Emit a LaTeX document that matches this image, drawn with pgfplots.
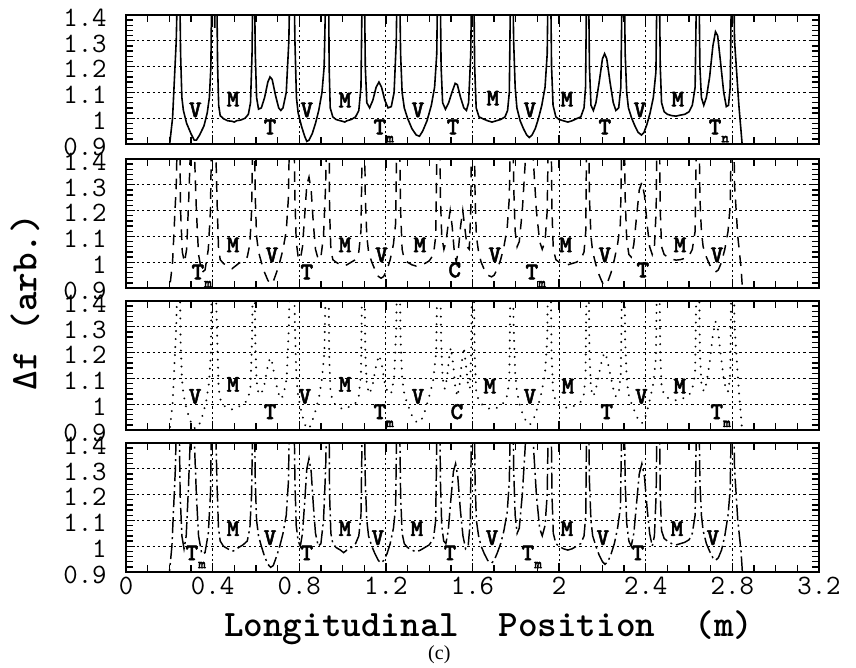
\documentclass[border=0pt]{standalone}
\usepackage{fontspec}
\setmainfont{Liberation Serif}
\newfontfamily\lblfont{lmmonolt10-bold.otf}[FakeBold=2]
\usepackage{pgfplots}
\pgfplotsset{compat=1.18}

\newcommand\Tm[1][m]{T\rlap{\smash{\raisebox{-6pt}{\fontsize{11}{11}\selectfont #1}}}}

\pgfplotsset{
  panel/.style={
    scale only axis, width=519.75pt, height=96.75pt,
    anchor=north west,
    xmin=0, xmax=3.2, ymin=0.9, ymax=1.4,
    xtick={0,0.4,0.8,1.2,1.6,2,2.4,2.8,3.2},
    ytick={0.9,1,1.1,1.2,1.3,1.4},
    minor x tick num=3, minor y tick num=4,
    grid=major,
    major grid style={black, line width=0.7pt, dash pattern=on 1.8pt off 2.2pt},
    axis line style={line width=1.5pt},
    tick style={black, line width=1pt},
    major tick length=7pt, minor tick length=5pt,
    tick align=inside,
    ticklabel style={font=\ttfamily\fontsize{21}{21}\selectfont},
    /pgf/number format/assume math mode=true,
    yticklabel style={xshift=-11pt, yshift=-2pt},
  },
}
\tikzset{lbl/.style={font=\lblfont\fontsize{18}{18}\selectfont, inner sep=0pt}}

\begin{document}
\begin{tikzpicture}
\path[use as bounding box] (-94.5pt,11.25pt) rectangle (547.5pt,-489pt);

% ---- panel 1: solid
\begin{axis}[panel, at={(0,0)}, xticklabels={}]
\addplot[black, line width=1.2pt] coordinates {
(0.195,0.85) (0.215,1.0) (0.232,1.3) (0.240,1.6)
(0.247,1.6) (0.252,1.25) (0.258,1.08) (0.265,1.03) (0.28,0.98) (0.30,0.94) (0.315,0.915) (0.325,0.915) (0.34,0.935) (0.36,0.97) (0.375,1.02) (0.385,1.08) (0.392,1.2) (0.397,1.6)
(0.405,1.6) (0.410,1.35) (0.414,1.6) (0.418,1.6)
(0.423,1.2) (0.428,1.05) (0.435,1.01) (0.45,0.998) (0.47,0.99) (0.49,0.988) (0.5,0.985) (0.51,0.99) (0.53,0.993) (0.55,1.0) (0.565,1.015) (0.575,1.06) (0.582,1.25) (0.587,1.6)
(0.592,1.6)
(0.597,1.25) (0.603,1.08) (0.612,1.035) (0.625,1.04) (0.64,1.08) (0.655,1.14) (0.665,1.16) (0.675,1.15) (0.69,1.09) (0.705,1.04) (0.715,1.03) (0.725,1.04) (0.74,1.1) (0.752,1.3) (0.758,1.6)
(0.775,1.6)
(0.78,1.3) (0.787,1.08) (0.795,1.02) (0.81,0.97) (0.825,0.93) (0.835,0.91) (0.845,0.915) (0.86,0.94) (0.875,0.98) (0.89,1.03) (0.905,1.1) (0.915,1.2) (0.925,1.6)
(0.935,1.6)
(0.938,1.2) (0.943,1.04) (0.955,1.005) (0.97,0.995) (0.99,0.99) (1.0,0.988) (1.01,0.985) (1.02,0.99) (1.04,0.995) (1.06,1.005) (1.075,1.03) (1.085,1.12) (1.092,1.6)
(1.1,1.6)
(1.105,1.2) (1.112,1.06) (1.125,1.04) (1.14,1.07) (1.155,1.12) (1.168,1.14) (1.18,1.12) (1.195,1.07) (1.21,1.04) (1.225,1.045) (1.238,1.1) (1.248,1.3) (1.253,1.6)
(1.262,1.6)
(1.268,1.25) (1.275,1.1) (1.285,1.04) (1.3,1.0) (1.32,0.96) (1.34,0.935) (1.355,0.93) (1.37,0.95) (1.39,0.99) (1.41,1.05) (1.425,1.12) (1.435,1.25) (1.44,1.6)
(1.45,1.6)
(1.455,1.2) (1.462,1.06) (1.475,1.035) (1.49,1.06) (1.505,1.1) (1.52,1.135) (1.53,1.13) (1.545,1.08) (1.56,1.04) (1.572,1.03) (1.582,1.06) (1.592,1.25) (1.597,1.6)
(1.605,1.6)
(1.61,1.2) (1.617,1.04) (1.63,1.005) (1.65,0.997) (1.67,0.99) (1.69,0.985) (1.71,0.99) (1.73,0.995) (1.75,1.005) (1.762,1.03) (1.77,1.1) (1.777,1.6)
(1.785,1.6)
(1.79,1.3) (1.797,1.12) (1.805,1.04) (1.82,0.99) (1.835,0.96) (1.85,0.935) (1.862,0.925) (1.875,0.935) (1.89,0.96) (1.905,1.0) (1.92,1.05) (1.935,1.12) (1.945,1.25) (1.95,1.6)
(1.96,1.6)
(1.965,1.2) (1.972,1.05) (1.985,1.005) (2.0,0.995) (2.02,0.99) (2.04,0.985) (2.06,0.99) (2.08,0.998) (2.1,1.005) (2.115,1.04) (2.122,1.12) (2.128,1.6)
(2.135,1.6)
(2.14,1.2) (2.147,1.05) (2.158,1.03) (2.17,1.06) (2.185,1.14) (2.2,1.23) (2.21,1.25) (2.22,1.23) (2.235,1.14) (2.25,1.06) (2.262,1.03) (2.275,1.04) (2.285,1.12) (2.292,1.6)
(2.3,1.6)
(2.305,1.25) (2.312,1.1) (2.32,1.04) (2.335,1.0) (2.35,0.97) (2.365,0.945) (2.38,0.935) (2.392,0.945) (2.405,0.975) (2.42,1.02) (2.435,1.08) (2.447,1.18) (2.453,1.6)
(2.462,1.6)
(2.467,1.2) (2.473,1.06) (2.485,1.025) (2.5,1.015) (2.52,1.01) (2.54,1.008) (2.56,1.012) (2.58,1.015) (2.6,1.025) (2.615,1.05) (2.628,1.12) (2.636,1.6)
(2.645,1.6)
(2.65,1.2) (2.657,1.08) (2.668,1.05) (2.68,1.08) (2.695,1.16) (2.71,1.28) (2.722,1.335) (2.732,1.32) (2.745,1.22) (2.76,1.1) (2.772,1.045) (2.782,1.05) (2.79,1.12) (2.797,1.6)
(2.805,1.6)
(2.81,1.3) (2.83,1.05) (2.85,0.85)
};
\node[lbl] at (axis cs:0.32,1.032) {V};
\node[lbl] at (axis cs:0.494,1.074) {M};
\node[lbl] at (axis cs:0.665,0.966) {T};
\node[lbl] at (axis cs:0.835,1.032) {V};
\node[lbl] at (axis cs:1.011,1.07) {M};
\node[lbl] at (axis cs:1.172,0.966) {\Tm};
\node[lbl] at (axis cs:1.348,1.032) {V};
\node[lbl] at (axis cs:1.51,0.966) {T};
\node[lbl] at (axis cs:1.694,1.078) {M};
\node[lbl] at (axis cs:1.865,1.032) {V};
\node[lbl] at (axis cs:2.036,1.074) {M};
\node[lbl] at (axis cs:2.211,0.966) {T};
\node[lbl] at (axis cs:2.373,1.032) {V};
\node[lbl] at (axis cs:2.548,1.074) {M};
\node[lbl] at (axis cs:2.72,0.966) {\Tm[n]};
\end{axis}

% ---- panel 2: dashed
\begin{axis}[panel, at={(0,-108pt)}, xticklabels={}]
\addplot[black, line width=1.1pt, dash pattern=on 8pt off 6pt] coordinates {
(0.195,0.85) (0.215,1.0) (0.232,1.3) (0.240,1.6)
(0.247,1.6) (0.252,1.2) (0.26,1.04) (0.27,1.0) (0.28,1.05) (0.29,1.25) (0.298,1.45) (0.305,1.6) (0.315,1.45) (0.325,1.2) (0.335,1.03) (0.35,0.96) (0.365,0.97) (0.38,1.05) (0.39,1.2) (0.397,1.6)
(0.41,1.6)
(0.42,1.25) (0.427,1.06) (0.435,1.01) (0.45,0.995) (0.47,0.985) (0.49,0.975) (0.505,0.985) (0.52,0.995) (0.54,1.005) (0.56,1.02) (0.572,1.07) (0.58,1.2) (0.587,1.6)
(0.592,1.6)
(0.597,1.25) (0.603,1.1) (0.612,1.04) (0.625,1.0) (0.64,0.96) (0.655,0.93) (0.668,0.915) (0.68,0.925) (0.695,0.96) (0.71,1.0) (0.725,1.05) (0.74,1.12) (0.75,1.25) (0.757,1.6)
(0.775,1.6)
(0.78,1.25) (0.786,1.08) (0.795,1.02) (0.805,1.01) (0.815,1.06) (0.825,1.18) (0.835,1.3) (0.845,1.33) (0.855,1.28) (0.865,1.15) (0.875,1.05) (0.888,1.01) (0.9,1.02) (0.912,1.1) (0.922,1.3) (0.928,1.6)
(0.937,1.6)
(0.94,1.2) (0.946,1.05) (0.955,1.01) (0.97,1.0) (0.99,0.99) (1.005,0.985) (1.02,0.99) (1.04,1.0) (1.06,1.01) (1.075,1.04) (1.085,1.12) (1.093,1.6)
(1.1,1.6)
(1.105,1.25) (1.112,1.1) (1.12,1.04) (1.135,1.0) (1.15,0.97) (1.165,0.945) (1.178,0.938) (1.19,0.945) (1.205,0.97) (1.22,1.01) (1.235,1.07) (1.245,1.15) (1.252,1.6)
(1.262,1.6)
(1.268,1.2) (1.275,1.05) (1.285,1.01) (1.3,1.0) (1.32,0.99) (1.34,0.985) (1.36,0.99) (1.38,0.995) (1.4,1.005) (1.42,1.03) (1.43,1.1) (1.438,1.6)
(1.448,1.6)
(1.452,1.25) (1.458,1.1) (1.468,1.05) (1.478,1.08) (1.488,1.15) (1.497,1.2) (1.506,1.14) (1.515,1.05) (1.525,1.0) (1.535,1.05) (1.545,1.14) (1.555,1.2) (1.565,1.13) (1.575,1.06) (1.585,1.05) (1.592,1.2) (1.597,1.6)
(1.607,1.6)
(1.612,1.25) (1.618,1.1) (1.628,1.04) (1.64,1.0) (1.655,0.97) (1.67,0.95) (1.688,0.943) (1.7,0.95) (1.715,0.975) (1.73,1.01) (1.745,1.06) (1.76,1.13) (1.77,1.25) (1.777,1.6)
(1.787,1.6)
(1.79,1.3) (1.797,1.12) (1.806,1.06) (1.816,1.08) (1.83,1.2) (1.843,1.38) (1.855,1.6) (1.87,1.6) (1.882,1.38) (1.895,1.2) (1.91,1.08) (1.922,1.05) (1.935,1.08) (1.945,1.2) (1.952,1.6)
(1.962,1.6)
(1.967,1.2) (1.973,1.05) (1.985,1.01) (2.0,1.0) (2.02,0.995) (2.04,0.99) (2.06,0.995) (2.08,1.0) (2.1,1.01) (2.115,1.04) (2.123,1.12) (2.128,1.6)
(2.135,1.6)
(2.14,1.25) (2.147,1.1) (2.155,1.04) (2.17,0.99) (2.185,0.95) (2.2,0.92) (2.212,0.91) (2.225,0.925) (2.24,0.96) (2.255,1.01) (2.27,1.07) (2.283,1.15) (2.292,1.6)
(2.3,1.6)
(2.305,1.25) (2.312,1.09) (2.322,1.03) (2.333,1.02) (2.345,1.07) (2.358,1.18) (2.37,1.28) (2.382,1.31) (2.394,1.26) (2.406,1.15) (2.418,1.06) (2.43,1.03) (2.44,1.06) (2.448,1.2) (2.453,1.6)
(2.462,1.6)
(2.467,1.2) (2.473,1.06) (2.485,1.03) (2.5,1.02) (2.52,1.012) (2.54,1.008) (2.56,1.01) (2.58,1.015) (2.6,1.025) (2.615,1.05) (2.628,1.12) (2.636,1.6)
(2.645,1.6)
(2.65,1.25) (2.657,1.12) (2.665,1.06) (2.68,1.02) (2.695,0.99) (2.71,0.97) (2.722,0.962) (2.735,0.97) (2.75,1.0) (2.765,1.05) (2.78,1.12) (2.79,1.22) (2.797,1.6)
(2.805,1.6)
(2.81,1.3) (2.825,1.1) (2.84,0.98) (2.85,0.85)
};
\node[lbl] at (axis cs:0.332,0.962) {\Tm};
\node[lbl] at (axis cs:0.494,1.067) {M};
\node[lbl] at (axis cs:0.674,1.028) {V};
\node[lbl] at (axis cs:0.835,0.962) {T};
\node[lbl] at (axis cs:1.011,1.067) {M};
\node[lbl] at (axis cs:1.18,1.028) {V};
\node[lbl] at (axis cs:1.357,1.067) {M};
\node[lbl] at (axis cs:1.518,0.97) {C};
\node[lbl] at (axis cs:1.703,1.028) {V};
\node[lbl] at (axis cs:1.874,0.962) {\Tm};
\node[lbl] at (axis cs:2.03,1.067) {M};
\node[lbl] at (axis cs:2.211,1.028) {V};
\node[lbl] at (axis cs:2.387,0.97) {T};
\node[lbl] at (axis cs:2.558,1.067) {M};
\node[lbl] at (axis cs:2.729,1.028) {V};
\end{axis}

% ---- panel 3: dotted
\begin{axis}[panel, at={(0,-214.5pt)}, xticklabels={}]
\addplot[black, line width=1.6pt, line cap=round, dash pattern=on 0.01pt off 6pt] coordinates {
(0.195,0.85) (0.215,1.0) (0.232,1.3) (0.240,1.6)
(0.247,1.6) (0.252,1.25) (0.258,1.1) (0.265,1.04) (0.28,0.98) (0.295,0.94) (0.31,0.91) (0.325,0.905) (0.34,0.925) (0.355,0.96) (0.37,1.01) (0.383,1.08) (0.392,1.2) (0.397,1.6)
(0.41,1.6)
(0.423,1.2) (0.428,1.06) (0.437,1.015) (0.45,0.995) (0.47,0.985) (0.49,0.98) (0.51,0.985) (0.53,0.995) (0.55,1.005) (0.565,1.025) (0.575,1.07) (0.582,1.25) (0.587,1.6)
(0.592,1.6)
(0.597,1.25) (0.603,1.09) (0.612,1.04) (0.625,1.04) (0.64,1.08) (0.655,1.15) (0.665,1.18) (0.675,1.16) (0.69,1.09) (0.705,1.04) (0.717,1.02) (0.728,1.04) (0.742,1.1) (0.752,1.3) (0.758,1.6)
(0.775,1.6)
(0.78,1.3) (0.787,1.1) (0.795,1.03) (0.81,0.97) (0.822,0.93) (0.835,0.905) (0.848,0.91) (0.862,0.94) (0.877,0.98) (0.892,1.03) (0.905,1.1) (0.916,1.2) (0.925,1.6)
(0.935,1.6)
(0.938,1.2) (0.944,1.05) (0.955,1.01) (0.97,0.995) (0.99,0.985) (1.005,0.98) (1.02,0.985) (1.04,0.995) (1.06,1.005) (1.075,1.03) (1.085,1.12) (1.092,1.6)
(1.1,1.6)
(1.105,1.2) (1.112,1.07) (1.125,1.04) (1.14,1.08) (1.155,1.15) (1.168,1.19) (1.18,1.16) (1.195,1.08) (1.21,1.04) (1.225,1.045) (1.238,1.1) (1.248,1.3) (1.253,1.6)
(1.262,1.6)
(1.268,1.25) (1.275,1.1) (1.285,1.04) (1.3,1.0) (1.318,0.96) (1.335,0.935) (1.35,0.928) (1.365,0.94) (1.383,0.98) (1.4,1.03) (1.418,1.09) (1.432,1.2) (1.44,1.6)
(1.45,1.6)
(1.455,1.25) (1.462,1.1) (1.472,1.06) (1.482,1.1) (1.492,1.18) (1.5,1.22) (1.51,1.16) (1.52,1.07) (1.53,1.03) (1.54,1.07) (1.55,1.16) (1.56,1.22) (1.57,1.15) (1.58,1.07) (1.588,1.06) (1.594,1.2) (1.598,1.6)
(1.605,1.6)
(1.61,1.2) (1.617,1.05) (1.63,1.01) (1.65,0.995) (1.67,0.985) (1.69,0.98) (1.71,0.985) (1.73,0.995) (1.75,1.01) (1.762,1.04) (1.77,1.1) (1.777,1.6)
(1.785,1.6)
(1.79,1.3) (1.797,1.12) (1.805,1.05) (1.82,0.99) (1.835,0.955) (1.85,0.93) (1.863,0.92) (1.876,0.93) (1.89,0.96) (1.905,1.0) (1.92,1.05) (1.935,1.12) (1.945,1.25) (1.95,1.6)
(1.96,1.6)
(1.965,1.2) (1.972,1.05) (1.985,1.01) (2.0,0.995) (2.02,0.99) (2.04,0.985) (2.06,0.99) (2.08,0.998) (2.1,1.01) (2.115,1.04) (2.122,1.12) (2.128,1.6)
(2.135,1.6)
(2.14,1.2) (2.147,1.06) (2.158,1.03) (2.17,1.06) (2.185,1.12) (2.2,1.18) (2.21,1.2) (2.22,1.18) (2.235,1.12) (2.25,1.06) (2.262,1.03) (2.275,1.04) (2.285,1.12) (2.292,1.6)
(2.3,1.6)
(2.305,1.25) (2.312,1.1) (2.32,1.04) (2.335,1.0) (2.35,0.97) (2.365,0.94) (2.38,0.925) (2.392,0.935) (2.405,0.97) (2.42,1.02) (2.435,1.08) (2.447,1.18) (2.453,1.6)
(2.462,1.6)
(2.467,1.2) (2.473,1.07) (2.485,1.035) (2.5,1.025) (2.52,1.02) (2.54,1.015) (2.56,1.02) (2.58,1.025) (2.6,1.035) (2.615,1.06) (2.628,1.12) (2.636,1.6)
(2.645,1.6)
(2.65,1.2) (2.657,1.08) (2.668,1.05) (2.68,1.08) (2.695,1.16) (2.71,1.27) (2.722,1.32) (2.732,1.3) (2.745,1.2) (2.76,1.1) (2.772,1.05) (2.782,1.05) (2.79,1.12) (2.797,1.6)
(2.805,1.6)
(2.81,1.3) (2.83,1.05) (2.85,0.85)
};
\node[lbl] at (axis cs:0.319,1.03) {V};
\node[lbl] at (axis cs:0.494,1.077) {M};
\node[lbl] at (axis cs:0.665,0.971) {T};
\node[lbl] at (axis cs:0.826,1.03) {V};
\node[lbl] at (axis cs:1.011,1.077) {M};
\node[lbl] at (axis cs:1.172,0.971) {\Tm};
\node[lbl] at (axis cs:1.348,1.03) {V};
\node[lbl] at (axis cs:1.528,0.971) {C};
\node[lbl] at (axis cs:1.68,1.07) {M};
\node[lbl] at (axis cs:1.865,1.03) {V};
\node[lbl] at (axis cs:2.04,1.07) {M};
\node[lbl] at (axis cs:2.22,0.971) {T};
\node[lbl] at (axis cs:2.38,1.03) {V};
\node[lbl] at (axis cs:2.557,1.07) {M};
\node[lbl] at (axis cs:2.728,0.971) {\Tm};
\end{axis}

% ---- panel 4: dash-dot
\begin{axis}[panel, at={(0,-321pt)}]
\addplot[black, line width=1.1pt, dash pattern=on 12pt off 3pt on 1.5pt off 3pt] coordinates {
(0.195,0.85) (0.212,1.0) (0.228,1.3) (0.236,1.6)
(0.244,1.6) (0.25,1.2) (0.258,1.04) (0.268,0.99) (0.278,1.04) (0.288,1.22) (0.297,1.42) (0.305,1.6) (0.315,1.42) (0.325,1.2) (0.335,1.04) (0.35,0.97) (0.365,0.975) (0.38,1.05) (0.39,1.2) (0.397,1.6)
(0.41,1.6)
(0.42,1.25) (0.427,1.07) (0.435,1.02) (0.45,1.0) (0.47,0.99) (0.49,0.98) (0.505,0.985) (0.52,0.995) (0.54,1.005) (0.56,1.02) (0.572,1.07) (0.58,1.2) (0.587,1.6)
(0.592,1.6)
(0.597,1.25) (0.603,1.1) (0.612,1.04) (0.625,1.0) (0.64,0.96) (0.655,0.93) (0.668,0.918) (0.68,0.925) (0.695,0.96) (0.71,1.0) (0.725,1.05) (0.74,1.12) (0.75,1.25) (0.757,1.6)
(0.775,1.6)
(0.78,1.25) (0.786,1.08) (0.795,1.02) (0.805,1.0) (0.815,1.05) (0.825,1.17) (0.835,1.3) (0.845,1.34) (0.855,1.29) (0.865,1.16) (0.875,1.05) (0.888,1.0) (0.9,1.01) (0.912,1.1) (0.922,1.3) (0.928,1.6)
(0.937,1.6)
(0.94,1.2) (0.946,1.05) (0.955,1.01) (0.97,0.995) (0.99,0.985) (1.005,0.975) (1.02,0.985) (1.04,0.995) (1.06,1.01) (1.075,1.04) (1.085,1.12) (1.093,1.6)
(1.1,1.6)
(1.105,1.25) (1.112,1.1) (1.12,1.04) (1.135,1.0) (1.15,0.97) (1.165,0.945) (1.178,0.935) (1.19,0.945) (1.205,0.97) (1.22,1.01) (1.235,1.07) (1.245,1.15) (1.252,1.6)
(1.262,1.6)
(1.268,1.2) (1.275,1.05) (1.285,1.01) (1.3,0.995) (1.32,0.985) (1.34,0.978) (1.36,0.985) (1.38,0.995) (1.4,1.005) (1.42,1.03) (1.43,1.1) (1.438,1.6)
(1.448,1.6)
(1.452,1.25) (1.458,1.08) (1.467,1.02) (1.477,1.01) (1.488,1.06) (1.5,1.18) (1.512,1.29) (1.522,1.32) (1.532,1.27) (1.544,1.14) (1.556,1.04) (1.568,0.99) (1.58,1.0) (1.59,1.1) (1.597,1.6)
(1.607,1.6)
(1.612,1.25) (1.618,1.1) (1.628,1.04) (1.64,1.0) (1.655,0.97) (1.67,0.945) (1.688,0.935) (1.7,0.945) (1.715,0.975) (1.73,1.01) (1.745,1.06) (1.76,1.13) (1.77,1.25) (1.777,1.6)
(1.787,1.6)
(1.79,1.3) (1.797,1.12) (1.806,1.05) (1.816,1.07) (1.83,1.2) (1.843,1.38) (1.855,1.6) (1.87,1.6) (1.882,1.38) (1.895,1.2) (1.91,1.07) (1.922,1.04) (1.935,1.08) (1.945,1.2) (1.952,1.6)
(1.962,1.6)
(1.967,1.2) (1.973,1.05) (1.985,1.01) (2.0,1.0) (2.02,0.99) (2.04,0.985) (2.06,0.99) (2.08,1.0) (2.1,1.01) (2.115,1.04) (2.123,1.12) (2.128,1.6)
(2.135,1.6)
(2.14,1.25) (2.147,1.1) (2.155,1.04) (2.17,1.0) (2.185,0.965) (2.2,0.94) (2.212,0.93) (2.225,0.94) (2.24,0.97) (2.255,1.01) (2.27,1.07) (2.283,1.15) (2.292,1.6)
(2.3,1.6)
(2.305,1.25) (2.312,1.09) (2.322,1.02) (2.333,1.0) (2.345,1.05) (2.358,1.17) (2.37,1.28) (2.382,1.32) (2.394,1.27) (2.406,1.15) (2.418,1.05) (2.43,1.0) (2.44,1.04) (2.448,1.2) (2.453,1.6)
(2.462,1.6)
(2.467,1.2) (2.473,1.06) (2.485,1.03) (2.5,1.02) (2.52,1.01) (2.54,1.005) (2.56,1.01) (2.58,1.015) (2.6,1.025) (2.615,1.05) (2.628,1.12) (2.636,1.6)
(2.645,1.6)
(2.65,1.25) (2.657,1.12) (2.665,1.06) (2.68,1.01) (2.695,0.98) (2.71,0.955) (2.722,0.945) (2.735,0.955) (2.75,0.985) (2.765,1.04) (2.78,1.12) (2.79,1.22) (2.797,1.6)
(2.805,1.6)
(2.81,1.3) (2.825,1.1) (2.84,0.98) (2.85,0.85)
};
\node[lbl] at (axis cs:0.304,0.974) {\Tm};
\node[lbl] at (axis cs:0.494,1.068) {M};
\node[lbl] at (axis cs:0.665,1.033) {V};
\node[lbl] at (axis cs:0.835,0.974) {T};
\node[lbl] at (axis cs:1.011,1.068) {M};
\node[lbl] at (axis cs:1.163,1.033) {V};
\node[lbl] at (axis cs:1.343,1.068) {M};
\node[lbl] at (axis cs:1.496,0.974) {T};
\node[lbl] at (axis cs:1.69,1.033) {V};
\node[lbl] at (axis cs:1.856,0.974) {\Tm};
\node[lbl] at (axis cs:2.036,1.068) {M};
\node[lbl] at (axis cs:2.202,1.033) {V};
\node[lbl] at (axis cs:2.364,0.974) {T};
\node[lbl] at (axis cs:2.544,1.068) {M};
\node[lbl] at (axis cs:2.71,1.033) {V};
\end{axis}

\node[rotate=90, font=\ttfamily\bfseries\fontsize{28}{28}\selectfont] at (-75.75pt,-215.25pt) {Δf~(arb.)};
\node[anchor=base, font=\ttfamily\bfseries\fontsize{28}{28}\selectfont] at (272pt,-465.75pt) {Longitudinal~~Position~~(m)};
\node[font=\fontsize{15}{15}\selectfont] at (235pt,-480pt) {(c)};
\end{tikzpicture}
\end{document}
